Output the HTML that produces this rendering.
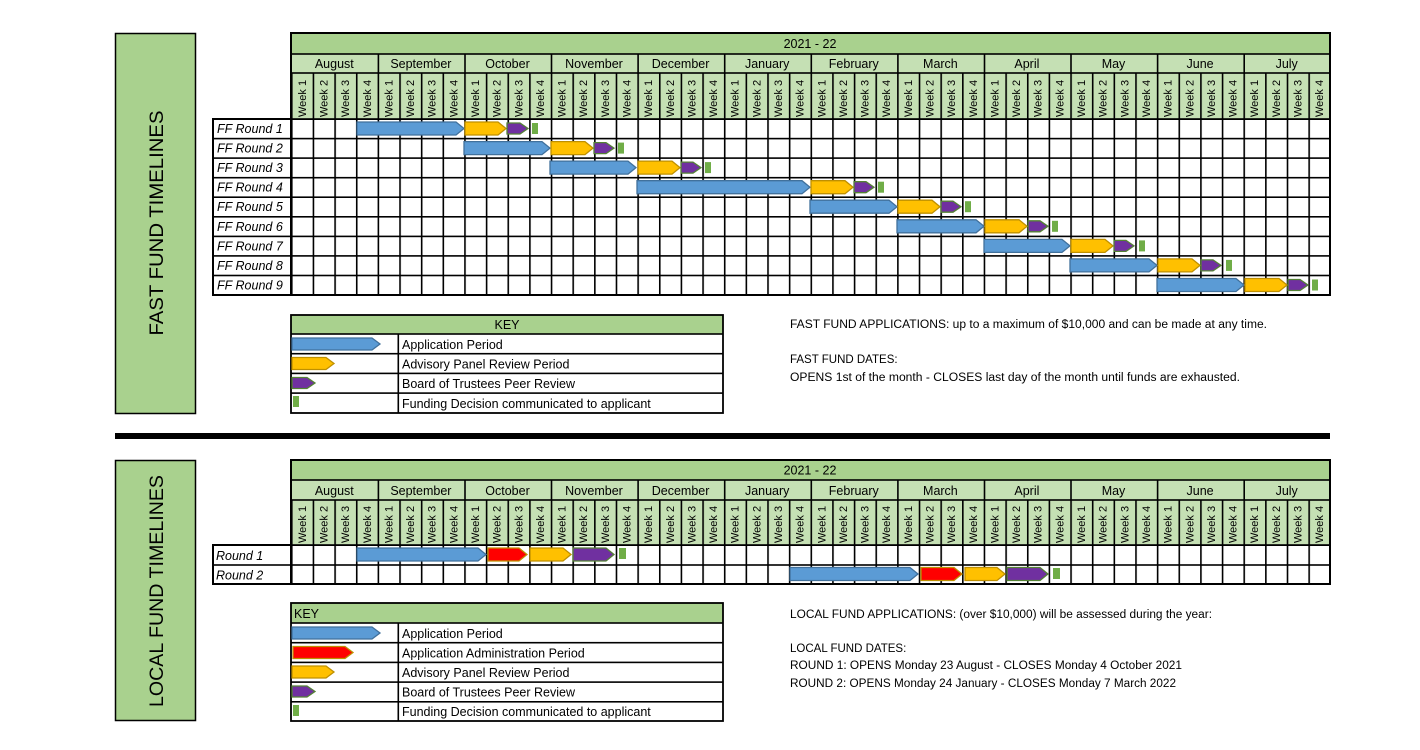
<!DOCTYPE html>
<html><head><meta charset="utf-8"><style>
html,body{margin:0;padding:0;background:#fff;}
svg{display:block;font-family:"Liberation Sans",sans-serif;}
.wk text{font-size:11px;}
.mo{font-size:12.5px;text-anchor:middle;}
.lb{font-size:12.5px;font-style:italic;}
.kt{font-size:12.5px;}
.rt{font-size:11.5px;}
</style></head><body>
<svg width="1420" height="750" viewBox="0 0 1420 750" xmlns="http://www.w3.org/2000/svg">
<defs>
<pattern id="vg" x="291" y="0" width="21.6458" height="750" patternUnits="userSpaceOnUse">
<rect x="0" y="0" width="1.6" height="750" fill="#000"/>
</pattern>
</defs>

<rect x="115.5" y="33.5" width="80" height="380" fill="#a9d18e" stroke="#000" stroke-width="1.5"/>
<text transform="translate(163,223) rotate(-90)" text-anchor="middle" font-size="19" textLength="225" lengthAdjust="spacingAndGlyphs">FAST FUND TIMELINES</text>
<rect x="115.5" y="460.5" width="80" height="260" fill="#a9d18e" stroke="#000" stroke-width="1.5"/>
<text transform="translate(163,591) rotate(-90)" text-anchor="middle" font-size="19" textLength="232" lengthAdjust="spacingAndGlyphs">LOCAL FUND TIMELINES</text>

<rect x="115" y="433" width="1215" height="6" fill="#000"/>

<!-- TOP GRID -->
<rect x="291" y="33" width="1039" height="21" fill="#a9d18e"/>
<rect x="291" y="54" width="1039" height="65" fill="#c5e0b4"/>
<rect x="291" y="73" width="1039" height="222" fill="url(#vg)"/>
<g fill="#000">
<rect x="377.6" y="54" width="1.6" height="20"/><rect x="464.2" y="54" width="1.6" height="20"/><rect x="550.7" y="54" width="1.6" height="20"/><rect x="637.3" y="54" width="1.6" height="20"/><rect x="723.9" y="54" width="1.6" height="20"/><rect x="810.5" y="54" width="1.6" height="20"/><rect x="897.1" y="54" width="1.6" height="20"/><rect x="983.7" y="54" width="1.6" height="20"/><rect x="1070.2" y="54" width="1.6" height="20"/><rect x="1156.8" y="54" width="1.6" height="20"/><rect x="1243.4" y="54" width="1.6" height="20"/>
<rect x="291" y="53.2" width="1039" height="1.6"/>
<rect x="291" y="72.2" width="1039" height="1.6"/>
<rect x="213" y="118.2" width="1117" height="1.8"/>
<rect x="213" y="137.8" width="1117" height="1.6"/>
<rect x="213" y="157.3" width="1117" height="1.6"/>
<rect x="213" y="176.9" width="1117" height="1.6"/>
<rect x="213" y="196.4" width="1117" height="1.6"/>
<rect x="213" y="216.0" width="1117" height="1.6"/>
<rect x="213" y="235.6" width="1117" height="1.6"/>
<rect x="213" y="255.1" width="1117" height="1.6"/>
<rect x="213" y="274.7" width="1117" height="1.6"/>
</g>
<rect x="291" y="33" width="1039" height="262" fill="none" stroke="#000" stroke-width="2"/>
<rect x="213" y="119" width="78" height="176" fill="none" stroke="#000" stroke-width="2"/>
<text x="810" y="48" font-size="12.5" text-anchor="middle">2021 - 22</text>
<g class="mo">
<text x="334.3" y="68">August</text><text x="420.9" y="68">September</text><text x="507.5" y="68">October</text><text x="594" y="68">November</text><text x="680.6" y="68">December</text><text x="767.2" y="68">January</text><text x="853.8" y="68">February</text><text x="940.4" y="68">March</text><text x="1026.9" y="68">April</text><text x="1113.5" y="68">May</text><text x="1200.1" y="68">June</text><text x="1286.7" y="68">July</text>
</g>
<g class="wk">
<text transform="translate(305.8,117) rotate(-90)">Week 1</text><text transform="translate(327.5,117) rotate(-90)">Week 2</text><text transform="translate(349.1,117) rotate(-90)">Week 3</text><text transform="translate(370.8,117) rotate(-90)">Week 4</text>
<text transform="translate(392.4,117) rotate(-90)">Week 1</text><text transform="translate(414,117) rotate(-90)">Week 2</text><text transform="translate(435.7,117) rotate(-90)">Week 3</text><text transform="translate(457.3,117) rotate(-90)">Week 4</text>
<text transform="translate(479,117) rotate(-90)">Week 1</text><text transform="translate(500.6,117) rotate(-90)">Week 2</text><text transform="translate(522.3,117) rotate(-90)">Week 3</text><text transform="translate(543.9,117) rotate(-90)">Week 4</text>
<text transform="translate(565.6,117) rotate(-90)">Week 1</text><text transform="translate(587.2,117) rotate(-90)">Week 2</text><text transform="translate(608.8,117) rotate(-90)">Week 3</text><text transform="translate(630.5,117) rotate(-90)">Week 4</text>
<text transform="translate(652.1,117) rotate(-90)">Week 1</text><text transform="translate(673.8,117) rotate(-90)">Week 2</text><text transform="translate(695.4,117) rotate(-90)">Week 3</text><text transform="translate(717.1,117) rotate(-90)">Week 4</text>
<text transform="translate(738.7,117) rotate(-90)">Week 1</text><text transform="translate(760.4,117) rotate(-90)">Week 2</text><text transform="translate(782,117) rotate(-90)">Week 3</text><text transform="translate(803.7,117) rotate(-90)">Week 4</text>
<text transform="translate(825.3,117) rotate(-90)">Week 1</text><text transform="translate(846.9,117) rotate(-90)">Week 2</text><text transform="translate(868.6,117) rotate(-90)">Week 3</text><text transform="translate(890.2,117) rotate(-90)">Week 4</text>
<text transform="translate(911.9,117) rotate(-90)">Week 1</text><text transform="translate(933.5,117) rotate(-90)">Week 2</text><text transform="translate(955.2,117) rotate(-90)">Week 3</text><text transform="translate(976.8,117) rotate(-90)">Week 4</text>
<text transform="translate(998.5,117) rotate(-90)">Week 1</text><text transform="translate(1020.1,117) rotate(-90)">Week 2</text><text transform="translate(1041.7,117) rotate(-90)">Week 3</text><text transform="translate(1063.4,117) rotate(-90)">Week 4</text>
<text transform="translate(1085,117) rotate(-90)">Week 1</text><text transform="translate(1106.7,117) rotate(-90)">Week 2</text><text transform="translate(1128.3,117) rotate(-90)">Week 3</text><text transform="translate(1150,117) rotate(-90)">Week 4</text>
<text transform="translate(1171.6,117) rotate(-90)">Week 1</text><text transform="translate(1193.3,117) rotate(-90)">Week 2</text><text transform="translate(1214.9,117) rotate(-90)">Week 3</text><text transform="translate(1236.5,117) rotate(-90)">Week 4</text>
<text transform="translate(1258.2,117) rotate(-90)">Week 1</text><text transform="translate(1279.8,117) rotate(-90)">Week 2</text><text transform="translate(1301.5,117) rotate(-90)">Week 3</text><text transform="translate(1323.1,117) rotate(-90)">Week 4</text>
</g>
<g class="lb">
<text x="217" y="133">FF Round 1</text><text x="217" y="152.6">FF Round 2</text><text x="217" y="172.1">FF Round 3</text><text x="217" y="191.7">FF Round 4</text><text x="217" y="211.2">FF Round 5</text><text x="217" y="230.8">FF Round 6</text><text x="217" y="250.4">FF Round 7</text><text x="217" y="269.9">FF Round 8</text><text x="217" y="289.5">FF Round 9</text>
</g>

<g stroke-width="1.3">
<g fill="#5b9bd5" stroke="#41719c">
<polygon points="357,122 456,122 464,128.5 456,135 357,135"/>
<polygon points="464,141.6 542,141.6 550,148.1 542,154.6 464,154.6"/>
<polygon points="550,161.1 628,161.1 636,167.6 628,174.1 550,174.1"/>
<polygon points="637,180.7 802,180.7 810,187.2 802,193.7 637,193.7"/>
<polygon points="810,200.2 889,200.2 897,206.7 889,213.2 810,213.2"/>
<polygon points="897,219.8 976,219.8 984,226.3 976,232.8 897,232.8"/>
<polygon points="984,239.4 1062,239.4 1070,245.9 1062,252.4 984,252.4"/>
<polygon points="1070,258.9 1149,258.9 1157,265.4 1149,271.9 1070,271.9"/>
<polygon points="1157,278.5 1236,278.5 1244,285 1236,291.5 1157,291.5"/>
</g>
<g fill="#ffc000" stroke="#bf9000">
<polygon points="465,122 498,122 506,128.5 498,135 465,135"/>
<polygon points="551,141.6 585,141.6 593,148.1 585,154.6 551,154.6"/>
<polygon points="638,161.1 672,161.1 680,167.6 672,174.1 638,174.1"/>
<polygon points="811,180.7 845,180.7 853,187.2 845,193.7 811,193.7"/>
<polygon points="898,200.2 932,200.2 940,206.7 932,213.2 898,213.2"/>
<polygon points="985,219.8 1019,219.8 1027,226.3 1019,232.8 985,232.8"/>
<polygon points="1071,239.4 1105,239.4 1113,245.9 1105,252.4 1071,252.4"/>
<polygon points="1158,258.9 1192,258.9 1200,265.4 1192,271.9 1158,271.9"/>
<polygon points="1245,278.5 1279,278.5 1287,285 1279,291.5 1245,291.5"/>
</g>
<g fill="#7030a0" stroke="#548235">
<polygon points="507,123 520,123 528,128.5 520,134 507,134"/>
<polygon points="594,142.6 606,142.6 614,148.1 606,153.6 594,153.6"/>
<polygon points="681,162.1 693,162.1 701,167.6 693,173.1 681,173.1"/>
<polygon points="854,181.7 866,181.7 874,187.2 866,192.7 854,192.7"/>
<polygon points="941,201.2 953,201.2 961,206.7 953,212.2 941,212.2"/>
<polygon points="1028,220.8 1040,220.8 1048,226.3 1040,231.8 1028,231.8"/>
<polygon points="1114,240.4 1126,240.4 1134,245.9 1126,251.4 1114,251.4"/>
<polygon points="1201,259.9 1213,259.9 1221,265.4 1213,270.9 1201,270.9"/>
<polygon points="1288,279.5 1300,279.5 1308,285 1300,290.5 1288,290.5"/>
</g>
</g>
<g fill="#70ad47">
<rect x="532" y="123" width="6" height="11"/><rect x="618" y="142.6" width="6" height="11"/><rect x="705" y="162.1" width="6" height="11"/><rect x="878" y="181.7" width="6" height="11"/><rect x="965" y="201.2" width="6" height="11"/><rect x="1052" y="220.8" width="6" height="11"/><rect x="1139" y="240.4" width="6" height="11"/><rect x="1226" y="259.9" width="6" height="11"/><rect x="1312" y="279.5" width="6" height="11"/>
</g>

<rect x="291" y="315" width="432" height="19" fill="#a9d18e"/>
<g fill="#000">
<rect x="291" y="333.2" width="432" height="1.6"/><rect x="291" y="352.9" width="432" height="1.6"/><rect x="291" y="372.6" width="432" height="1.6"/><rect x="291" y="392.3" width="432" height="1.6"/>
<rect x="397.5" y="334" width="1.6" height="79"/>
</g>
<rect x="291" y="315" width="432" height="98" fill="none" stroke="#000" stroke-width="1.8"/>
<text x="507" y="329" font-size="12.5" text-anchor="middle">KEY</text>
<polygon points="292,338 372,338 380,344 372,350 292,350" fill="#5b9bd5" stroke="#41719c" stroke-width="1.3"/>
<polygon points="292,357.5 326,357.5 334,363.5 326,369.5 292,369.5" fill="#ffc000" stroke="#bf9000" stroke-width="1.3"/>
<polygon points="292,377.5 307,377.5 315,383 307,388.5 292,388.5" fill="#7030a0" stroke="#548235" stroke-width="1.3"/>
<rect x="293" y="396" width="6" height="11" fill="#70ad47"/>
<g class="kt">
<text x="402" y="349">Application Period</text>
<text x="402" y="368.5">Advisory Panel Review Period</text>
<text x="402" y="388">Board of Trustees Peer Review</text>
<text x="402" y="408">Funding Decision communicated to applicant</text>
</g>
<g class="rt">
<text x="790" y="328" textLength="477" lengthAdjust="spacingAndGlyphs">FAST FUND APPLICATIONS: up to a maximum of $10,000 and can be made at any time.</text>
<text x="790" y="363">FAST FUND DATES:</text>
<text x="790" y="381" textLength="450" lengthAdjust="spacingAndGlyphs">OPENS 1st of the month - CLOSES last day of the month until funds are exhausted.</text>
</g>

<!-- BOTTOM GRID -->
<rect x="291" y="460" width="1039" height="20" fill="#a9d18e"/>
<rect x="291" y="480" width="1039" height="65" fill="#c5e0b4"/>
<rect x="291" y="500" width="1039" height="84" fill="url(#vg)"/>
<g fill="#000">
<rect x="377.6" y="480" width="1.6" height="20"/><rect x="464.2" y="480" width="1.6" height="20"/><rect x="550.7" y="480" width="1.6" height="20"/><rect x="637.3" y="480" width="1.6" height="20"/><rect x="723.9" y="480" width="1.6" height="20"/><rect x="810.5" y="480" width="1.6" height="20"/><rect x="897.1" y="480" width="1.6" height="20"/><rect x="983.7" y="480" width="1.6" height="20"/><rect x="1070.2" y="480" width="1.6" height="20"/><rect x="1156.8" y="480" width="1.6" height="20"/><rect x="1243.4" y="480" width="1.6" height="20"/>
<rect x="291" y="479.2" width="1039" height="1.6"/>
<rect x="291" y="499.2" width="1039" height="1.6"/>
<rect x="213" y="544.2" width="1117" height="1.8"/>
<rect x="213" y="564.2" width="1117" height="1.6"/>
</g>
<rect x="291" y="460" width="1039" height="124" fill="none" stroke="#000" stroke-width="2"/>
<rect x="213" y="545" width="78" height="39" fill="none" stroke="#000" stroke-width="2"/>
<text x="810" y="474.5" font-size="12.5" text-anchor="middle">2021 - 22</text>
<g class="mo">
<text x="334.3" y="495">August</text><text x="420.9" y="495">September</text><text x="507.5" y="495">October</text><text x="594" y="495">November</text><text x="680.6" y="495">December</text><text x="767.2" y="495">January</text><text x="853.8" y="495">February</text><text x="940.4" y="495">March</text><text x="1026.9" y="495">April</text><text x="1113.5" y="495">May</text><text x="1200.1" y="495">June</text><text x="1286.7" y="495">July</text>
</g>
<g class="wk">
<text transform="translate(305.8,543) rotate(-90)">Week 1</text><text transform="translate(327.5,543) rotate(-90)">Week 2</text><text transform="translate(349.1,543) rotate(-90)">Week 3</text><text transform="translate(370.8,543) rotate(-90)">Week 4</text>
<text transform="translate(392.4,543) rotate(-90)">Week 1</text><text transform="translate(414,543) rotate(-90)">Week 2</text><text transform="translate(435.7,543) rotate(-90)">Week 3</text><text transform="translate(457.3,543) rotate(-90)">Week 4</text>
<text transform="translate(479,543) rotate(-90)">Week 1</text><text transform="translate(500.6,543) rotate(-90)">Week 2</text><text transform="translate(522.3,543) rotate(-90)">Week 3</text><text transform="translate(543.9,543) rotate(-90)">Week 4</text>
<text transform="translate(565.6,543) rotate(-90)">Week 1</text><text transform="translate(587.2,543) rotate(-90)">Week 2</text><text transform="translate(608.8,543) rotate(-90)">Week 3</text><text transform="translate(630.5,543) rotate(-90)">Week 4</text>
<text transform="translate(652.1,543) rotate(-90)">Week 1</text><text transform="translate(673.8,543) rotate(-90)">Week 2</text><text transform="translate(695.4,543) rotate(-90)">Week 3</text><text transform="translate(717.1,543) rotate(-90)">Week 4</text>
<text transform="translate(738.7,543) rotate(-90)">Week 1</text><text transform="translate(760.4,543) rotate(-90)">Week 2</text><text transform="translate(782,543) rotate(-90)">Week 3</text><text transform="translate(803.7,543) rotate(-90)">Week 4</text>
<text transform="translate(825.3,543) rotate(-90)">Week 1</text><text transform="translate(846.9,543) rotate(-90)">Week 2</text><text transform="translate(868.6,543) rotate(-90)">Week 3</text><text transform="translate(890.2,543) rotate(-90)">Week 4</text>
<text transform="translate(911.9,543) rotate(-90)">Week 1</text><text transform="translate(933.5,543) rotate(-90)">Week 2</text><text transform="translate(955.2,543) rotate(-90)">Week 3</text><text transform="translate(976.8,543) rotate(-90)">Week 4</text>
<text transform="translate(998.5,543) rotate(-90)">Week 1</text><text transform="translate(1020.1,543) rotate(-90)">Week 2</text><text transform="translate(1041.7,543) rotate(-90)">Week 3</text><text transform="translate(1063.4,543) rotate(-90)">Week 4</text>
<text transform="translate(1085,543) rotate(-90)">Week 1</text><text transform="translate(1106.7,543) rotate(-90)">Week 2</text><text transform="translate(1128.3,543) rotate(-90)">Week 3</text><text transform="translate(1150,543) rotate(-90)">Week 4</text>
<text transform="translate(1171.6,543) rotate(-90)">Week 1</text><text transform="translate(1193.3,543) rotate(-90)">Week 2</text><text transform="translate(1214.9,543) rotate(-90)">Week 3</text><text transform="translate(1236.5,543) rotate(-90)">Week 4</text>
<text transform="translate(1258.2,543) rotate(-90)">Week 1</text><text transform="translate(1279.8,543) rotate(-90)">Week 2</text><text transform="translate(1301.5,543) rotate(-90)">Week 3</text><text transform="translate(1323.1,543) rotate(-90)">Week 4</text>
</g>
<g class="lb">
<text x="216" y="560">Round 1</text><text x="216" y="579.5">Round 2</text>
</g>
<g stroke-width="1.3">
<polygon points="357,548 478,548 486,554.5 478,561 357,561" fill="#5b9bd5" stroke="#41719c"/>
<polygon points="488,548 519,548 527,554.5 519,561 488,561" fill="#ff0000" stroke="#bf9000"/>
<polygon points="530,548 563,548 571,554.5 563,561 530,561" fill="#ffc000" stroke="#bf9000"/>
<polygon points="573,548 606,548 614,554.5 606,561 573,561" fill="#7030a0" stroke="#548235"/>
<polygon points="790,567.5 910,567.5 918,574 910,580.5 790,580.5" fill="#5b9bd5" stroke="#41719c"/>
<polygon points="921,567.5 954,567.5 962,574 954,580.5 921,580.5" fill="#ff0000" stroke="#bf9000"/>
<polygon points="965,567.5 997,567.5 1005,574 997,580.5 965,580.5" fill="#ffc000" stroke="#bf9000"/>
<polygon points="1007,567.5 1040,567.5 1048,574 1040,580.5 1007,580.5" fill="#7030a0" stroke="#548235"/>
</g>
<rect x="619" y="548" width="7" height="11" fill="#70ad47"/>
<rect x="1053" y="568" width="7" height="11" fill="#70ad47"/>

<rect x="291" y="603" width="432" height="20" fill="#a9d18e"/>
<g fill="#000">
<rect x="291" y="622.2" width="432" height="1.6"/><rect x="291" y="641.9" width="432" height="1.6"/><rect x="291" y="661.6" width="432" height="1.6"/><rect x="291" y="681.3" width="432" height="1.6"/><rect x="291" y="701" width="432" height="1.6"/>
<rect x="397.5" y="623" width="1.6" height="98"/>
</g>
<rect x="291" y="603" width="432" height="118" fill="none" stroke="#000" stroke-width="1.8"/>
<text x="294" y="618" font-size="12.5">KEY</text>
<g stroke-width="1.3">
<polygon points="292,627 372,627 380,633 372,639 292,639" fill="#5b9bd5" stroke="#41719c"/>
<polygon points="293,646.5 345,646.5 353,652.5 345,658.5 293,658.5" fill="#ff0000" stroke="#bf9000"/>
<polygon points="292,666 326,666 334,672 326,678 292,678" fill="#ffc000" stroke="#bf9000"/>
<polygon points="292,686 307,686 315,691.5 307,697 292,697" fill="#7030a0" stroke="#548235"/>
</g>
<rect x="293" y="705" width="6" height="11" fill="#70ad47"/>
<g class="kt">
<text x="402" y="638">Application Period</text>
<text x="402" y="657.5">Application Administration Period</text>
<text x="402" y="677">Advisory Panel Review Period</text>
<text x="402" y="696.5">Board of Trustees Peer Review</text>
<text x="402" y="716">Funding Decision communicated to applicant</text>
</g>
<g class="rt">
<text x="790" y="618" textLength="422" lengthAdjust="spacingAndGlyphs">LOCAL FUND APPLICATIONS: (over $10,000) will be assessed during the year:</text>
<text x="790" y="652">LOCAL FUND DATES:</text>
<text x="790" y="669" textLength="392" lengthAdjust="spacingAndGlyphs">ROUND 1: OPENS Monday 23 August - CLOSES Monday 4 October 2021</text>
<text x="790" y="687" textLength="386" lengthAdjust="spacingAndGlyphs">ROUND 2: OPENS Monday 24 January - CLOSES Monday 7 March 2022</text>
</g>
</svg>
</body></html>
